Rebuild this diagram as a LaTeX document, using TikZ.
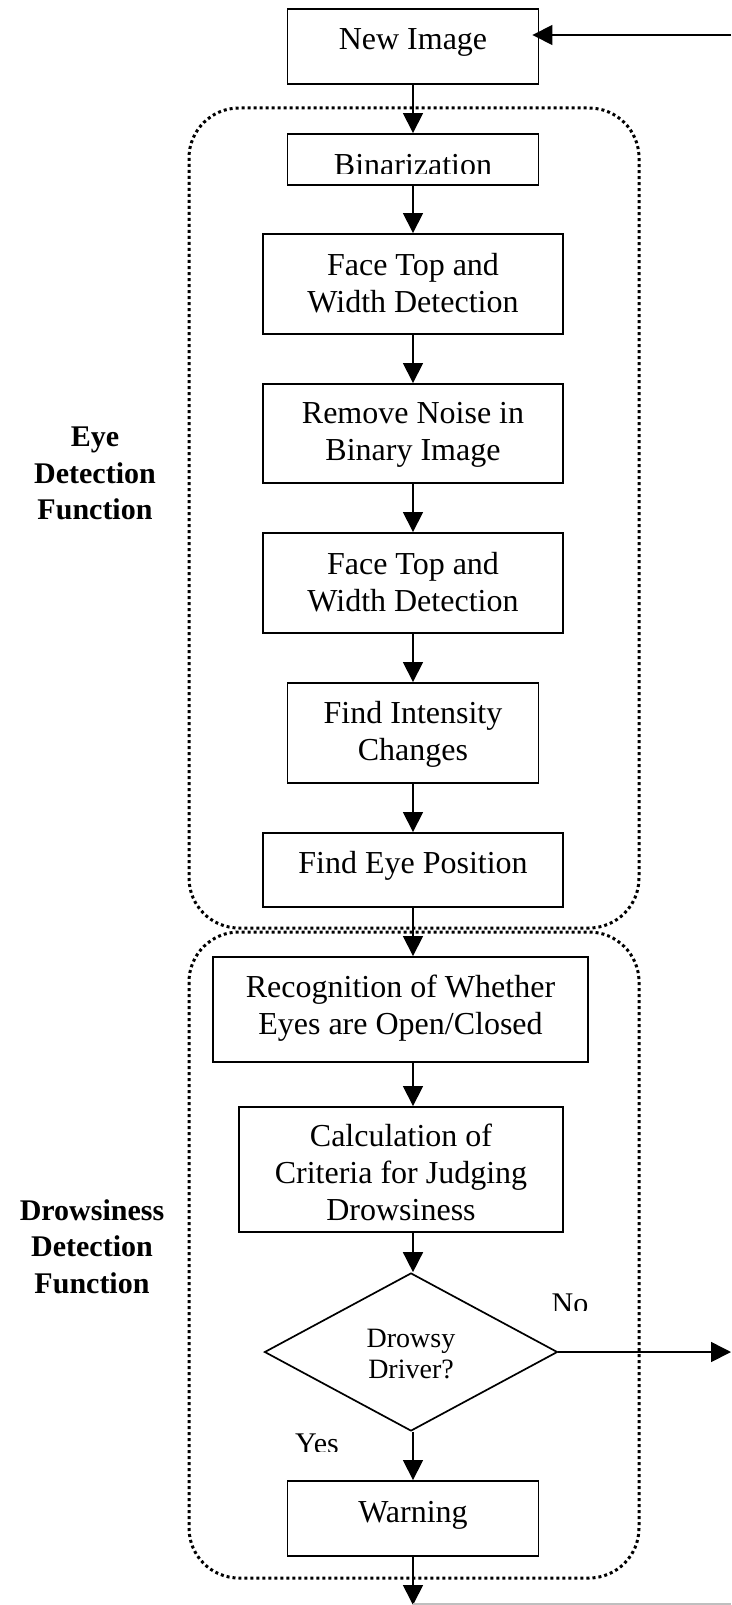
\documentclass[tikz,border=0pt]{standalone}
\usepackage{fontspec}
\setmainfont{Liberation Serif}
\usetikzlibrary{arrows.meta,shapes.geometric,calc}

\begin{document}
\begin{tikzpicture}[x=1pt,y=-1pt,
  box/.style={draw, line width=1.9pt, rectangle, inner sep=0pt, align=center,
    font=\fontsize{32}{37}\selectfont},
  decision/.style={draw, line width=1.7pt, diamond, inner sep=0pt, align=center,
    font=\fontsize{28}{31}\selectfont},
  flow/.style={line width=1.6pt, -{Triangle[length=20pt,width=20pt]}},
  group/.style={line width=3pt, dash pattern=on 3pt off 3pt, rounded corners=50pt},
  side/.style={align=center, inner sep=0pt, font=\bfseries\fontsize{30}{36.5}\selectfont},
  tag/.style={anchor=base, inner sep=0pt, font=\fontsize{30}{36}\selectfont}
]
\useasboundingbox (0,0) rectangle (731,1605);

% the two function groups
\draw[group] (189,108) rectangle (639,928);
\draw[group] (189,932) rectangle (639,1578);

% group captions
\node[side] (eyelbl) at (95,473.5) {Eye\\Detection\\Function};
\node[side] (drlbl) at (92,1246.5) {Drowsiness\\Detection\\Function};

% processing steps
\node[box, minimum width=251pt, minimum height=75pt, text height=22pt, text depth=15pt]
  (ni) at (413,46.5) {New Image};
\node[box, minimum width=251pt, minimum height=51pt] (bin) at (413,159.5) {};
\coordinate (bincut) at (538.5,174);
\begin{scope}
  \clip (bin.north west) rectangle (bincut);
  \node[anchor=base, inner sep=0pt, font=\fontsize{32}{37}\selectfont] (bintxt) at (413,176) {Binarization};
\end{scope}
\node[box, minimum width=300pt, minimum height=100pt, text height=59pt, text depth=3pt]
  (ft1) at (413,284) {Face Top and\\Width Detection};
\node[box, minimum width=300pt, minimum height=99pt, text height=59pt, text depth=6pt]
  (rn) at (413,433.5) {Remove Noise in\\Binary Image};
\node[box, minimum width=300pt, minimum height=100pt, text height=59pt, text depth=3pt]
  (ft2) at (413,583) {Face Top and\\Width Detection};
\node[box, minimum width=251pt, minimum height=100pt, text height=59pt, text depth=4pt]
  (fi) at (413,733) {Find Intensity\\Changes};
\node[box, minimum width=300pt, minimum height=74pt, text height=22pt, text depth=16pt]
  (fe) at (413,870) {Find Eye Position};
\node[box, minimum width=375pt, minimum height=105pt, text height=59pt, text depth=10pt]
  (rec) at (400.5,1009.5) {Recognition of Whether\\Eyes are Open/Closed};
\node[box, minimum width=324pt, minimum height=125pt, text height=101pt, text depth=0pt]
  (calc) at (401,1169.5) {Calculation of\\Criteria for Judging\\Drowsiness};
\node[decision, minimum width=293pt, minimum height=158pt, text height=52pt, text depth=0pt]
  (dia) at (411,1352) {Drowsy\\Driver?};
\node[box, minimum width=251pt, minimum height=75pt, text height=22pt, text depth=15pt]
  (warn) at (413,1518.5) {Warning};

% branch labels
\begin{scope}
  \clip (530,1280) rectangle (620,1310.5);
  \node[tag] (nolbl) at (570,1313) {No};
\end{scope}
\begin{scope}
  \clip (270,1420) rectangle (370,1451.5);
  \node[tag] (yeslbl) at (317,1453) {Yes};
\end{scope}

% loose ends of the loop
\coordinate (inR) at (731,35);
\coordinate (outR) at (731,1352);
\coordinate (outB) at (413,1605);
\coordinate (botL) at (413,1604);
\coordinate (botR) at (731,1604);

% connectors
\draw[flow] (ni) -- (bin);
\draw[flow] (bin) -- (ft1);
\draw[flow] (ft1) -- (rn);
\draw[flow] (rn) -- (ft2);
\draw[flow] (ft2) -- (fi);
\draw[flow] (fi) -- (fe);
\draw[flow] (fe.south) -- (fe.south |- rec.north);
\draw[flow] (rec.south -| fe.south) -- (calc.north -| fe.south);
\draw[flow] (calc.south -| fe.south) -- (fe.south |- dia.north);
\draw[flow] (fe.south |- dia.south) -- (warn.north);
\draw[flow] (warn) -- (outB);
\draw[flow] (dia.east) -- (outR);
\draw[flow, shorten >=-7pt] (inR) -- (ni.east |- inR);
\draw[line width=1.5pt, black!25] (botL) -- (botR);
\end{tikzpicture}
\end{document}
